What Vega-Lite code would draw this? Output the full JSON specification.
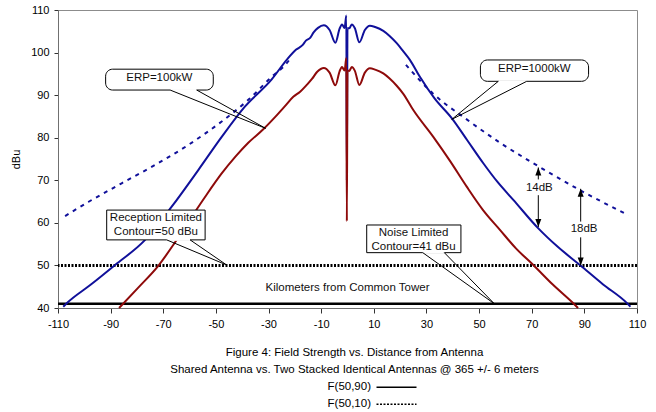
{
  "$schema": "https://vega.github.io/schema/vega-lite/v6.json",
  "width": 579,
  "height": 298,
  "autosize": {"type": "none"},
  "padding": {"left": 58, "top": 10, "right": 19, "bottom": 104},
  "background": "white",
  "config": {
    "font": "Liberation Sans",
    "view": {"stroke": "#8c8c8c", "strokeWidth": 1},
    "axis": {
      "labelFont": "Liberation Sans",
      "labelFontSize": 11,
      "labelColor": "black",
      "domainColor": "#707070",
      "tickColor": "#333333",
      "grid": false,
      "titleFont": "Liberation Sans",
      "titleFontWeight": "normal",
      "titleFontSize": 11,
      "titleColor": "black",
      "labelFlush": false,
      "labelOverlap": false
    },
    "title": {"font": "Liberation Sans", "fontSize": 11.5, "fontWeight": "normal", "color": "black"}
  },
  "title": {
    "text": "Figure 4: Field Strength vs. Distance from Antenna",
    "subtitle": "Shared Antenna vs. Two Stacked Identical Antennas @ 365 +/- 6 meters",
    "orient": "top",
    "anchor": "middle",
    "offset": -371,
    "dx": 7,
    "fontSize": 11.5,
    "subtitleFont": "Liberation Sans",
    "subtitleFontSize": 11.5,
    "subtitleColor": "black",
    "subtitlePadding": 5.5
  },
  "datasets": {
    "levels": [
      {"curve": "F(50,90)", "level": 41},
      {"curve": "F(50,10)", "level": 50}
    ],
    "curves": [
      {"series": "1000kW", "km": -108, "dbu": 40.3},
      {"series": "1000kW", "km": -106.7, "dbu": 41.1},
      {"series": "1000kW", "km": -97.5, "dbu": 45.5},
      {"series": "1000kW", "km": -88.3, "dbu": 50.1},
      {"series": "1000kW", "km": -76.9, "dbu": 56.0},
      {"series": "1000kW", "km": -66.8, "dbu": 63.8},
      {"series": "1000kW", "km": -56.7, "dbu": 72.4},
      {"series": "1000kW", "km": -47.8, "dbu": 80.2},
      {"series": "1000kW", "km": -39.0, "dbu": 87.3},
      {"series": "1000kW", "km": -28.8, "dbu": 93.7},
      {"series": "1000kW", "km": -23.1, "dbu": 98.3},
      {"series": "1000kW", "km": -19.5, "dbu": 100.7},
      {"series": "1000kW", "km": -17.0, "dbu": 101.8},
      {"series": "1000kW", "km": -15.8, "dbu": 102.8},
      {"series": "1000kW", "km": -14.3, "dbu": 103.4},
      {"series": "1000kW", "km": -12.8, "dbu": 104.8},
      {"series": "1000kW", "km": -11.2, "dbu": 105.8},
      {"series": "1000kW", "km": -9.0, "dbu": 106.4},
      {"series": "1000kW", "km": -6.8, "dbu": 105.3},
      {"series": "1000kW", "km": -4.6, "dbu": 102.3},
      {"series": "1000kW", "km": -3.0, "dbu": 105.6},
      {"series": "1000kW", "km": -2.1, "dbu": 106.6},
      {"series": "1000kW", "km": -1.1, "dbu": 105.8},
      {"series": "1000kW", "km": -0.45, "dbu": 108.7},
      {"series": "1000kW", "km": -0.25, "dbu": 70},
      {"series": "1000kW", "km": 0.0, "dbu": 105.8},
      {"series": "1000kW", "km": 0.7, "dbu": 105.7},
      {"series": "1000kW", "km": 1.6, "dbu": 106.6},
      {"series": "1000kW", "km": 2.8, "dbu": 105.7},
      {"series": "1000kW", "km": 4.5, "dbu": 102.4},
      {"series": "1000kW", "km": 6.6, "dbu": 105.3},
      {"series": "1000kW", "km": 8.5, "dbu": 106.3},
      {"series": "1000kW", "km": 10.5, "dbu": 106.0},
      {"series": "1000kW", "km": 13.6, "dbu": 105.1},
      {"series": "1000kW", "km": 16, "dbu": 103.9},
      {"series": "1000kW", "km": 18.7, "dbu": 102.2},
      {"series": "1000kW", "km": 21.2, "dbu": 100.3},
      {"series": "1000kW", "km": 23.7, "dbu": 98.3},
      {"series": "1000kW", "km": 27.5, "dbu": 94.3},
      {"series": "1000kW", "km": 33, "dbu": 89.3},
      {"series": "1000kW", "km": 39.6, "dbu": 84.6},
      {"series": "1000kW", "km": 45.5, "dbu": 79.4},
      {"series": "1000kW", "km": 51.6, "dbu": 74.0},
      {"series": "1000kW", "km": 57, "dbu": 69.6},
      {"series": "1000kW", "km": 63.0, "dbu": 65.4},
      {"series": "1000kW", "km": 72.5, "dbu": 58.7},
      {"series": "1000kW", "km": 80, "dbu": 54.3},
      {"series": "1000kW", "km": 88.3, "dbu": 50.1},
      {"series": "1000kW", "km": 97, "dbu": 45.6},
      {"series": "1000kW", "km": 106.1, "dbu": 41.2},
      {"series": "1000kW", "km": 107.5, "dbu": 40.3},

      {"series": "100kW", "km": -86.8, "dbu": 40.0},
      {"series": "100kW", "km": -79.5, "dbu": 44.8},
      {"series": "100kW", "km": -71.9, "dbu": 49.9},
      {"series": "100kW", "km": -66, "dbu": 55.0},
      {"series": "100kW", "km": -60.5, "dbu": 60.2},
      {"series": "100kW", "km": -54, "dbu": 66.2},
      {"series": "100kW", "km": -47.8, "dbu": 71.6},
      {"series": "100kW", "km": -42.5, "dbu": 75.6},
      {"series": "100kW", "km": -37.7, "dbu": 78.8},
      {"series": "100kW", "km": -32, "dbu": 82.0},
      {"series": "100kW", "km": -27, "dbu": 85.2},
      {"series": "100kW", "km": -23.5, "dbu": 87.6},
      {"series": "100kW", "km": -20.6, "dbu": 89.6},
      {"series": "100kW", "km": -18, "dbu": 90.8},
      {"series": "100kW", "km": -15.5, "dbu": 92.4},
      {"series": "100kW", "km": -13.5, "dbu": 93.8},
      {"series": "100kW", "km": -11.5, "dbu": 95.5},
      {"series": "100kW", "km": -9.0, "dbu": 96.4},
      {"series": "100kW", "km": -6.8, "dbu": 95.3},
      {"series": "100kW", "km": -4.6, "dbu": 92.3},
      {"series": "100kW", "km": -3.0, "dbu": 95.6},
      {"series": "100kW", "km": -2.1, "dbu": 96.6},
      {"series": "100kW", "km": -1.1, "dbu": 95.8},
      {"series": "100kW", "km": -0.45, "dbu": 98.7},
      {"series": "100kW", "km": -0.25, "dbu": 60.4},
      {"series": "100kW", "km": 0.0, "dbu": 95.8},
      {"series": "100kW", "km": 0.7, "dbu": 95.7},
      {"series": "100kW", "km": 1.6, "dbu": 96.6},
      {"series": "100kW", "km": 2.8, "dbu": 95.7},
      {"series": "100kW", "km": 4.5, "dbu": 92.4},
      {"series": "100kW", "km": 6.6, "dbu": 95.3},
      {"series": "100kW", "km": 8.5, "dbu": 96.3},
      {"series": "100kW", "km": 10.5, "dbu": 96.0},
      {"series": "100kW", "km": 13.6, "dbu": 95.1},
      {"series": "100kW", "km": 16, "dbu": 93.9},
      {"series": "100kW", "km": 18.7, "dbu": 92.2},
      {"series": "100kW", "km": 21.2, "dbu": 90.3},
      {"series": "100kW", "km": 25, "dbu": 86.5},
      {"series": "100kW", "km": 32.6, "dbu": 80.2},
      {"series": "100kW", "km": 39, "dbu": 74.5},
      {"series": "100kW", "km": 45.3, "dbu": 68.5},
      {"series": "100kW", "km": 51.5, "dbu": 63.0},
      {"series": "100kW", "km": 58.0, "dbu": 58.3},
      {"series": "100kW", "km": 64, "dbu": 54.0},
      {"series": "100kW", "km": 70.6, "dbu": 50.1},
      {"series": "100kW", "km": 78, "dbu": 45.5},
      {"series": "100kW", "km": 85.8, "dbu": 41.1},
      {"series": "100kW", "km": 87.6, "dbu": 40.0}
    ],
    "f10": [
      {"side": "west", "km": -107.3, "dbu": 61.6},
      {"side": "west", "km": -98.5, "dbu": 64.9},
      {"side": "west", "km": -85.8, "dbu": 69.3},
      {"side": "west", "km": -73.1, "dbu": 73.6},
      {"side": "west", "km": -60.5, "dbu": 78.3},
      {"side": "west", "km": -47.8, "dbu": 83.8},
      {"side": "west", "km": -37.7, "dbu": 88.9},
      {"side": "west", "km": -28.8, "dbu": 94.3},
      {"side": "west", "km": -23.1, "dbu": 97.5},
      {"side": "west", "km": -21.5, "dbu": 98.8},
      {"side": "east", "km": 22.2, "dbu": 97.1},
      {"side": "east", "km": 32.6, "dbu": 90.3},
      {"side": "east", "km": 45.3, "dbu": 84.3},
      {"side": "east", "km": 58.0, "dbu": 78.8},
      {"side": "east", "km": 70.6, "dbu": 74.0},
      {"side": "east", "km": 88.3, "dbu": 67.7},
      {"side": "east", "km": 106.7, "dbu": 61.8}
    ],
    "callouts": [
      {"shape": "rounded", "x1": -91.9, "x2": -51.0, "y1": 96.1, "y2": 91.2},
      {"shape": "rounded", "x1": 50.5, "x2": 91.6, "y1": 98.26, "y2": 93.25},
      {"shape": "square", "x1": -91.5, "x2": -54.1, "y1": 63.0, "y2": 56.0},
      {"shape": "square", "x1": 7.3, "x2": 43.1, "y1": 59.5, "y2": 53.0}
    ],
    "pointerBases": [
      {"x1": -67.4, "x2": -57.3, "y": 91.2},
      {"x1": 57.3, "x2": 68.1, "y": 93.25},
      {"x1": -68.7, "x2": -59.8, "y": 56.0},
      {"x1": 28.6, "x2": 36.8, "y": 53.0}
    ],
    "pointers": [
      {"x": -67.4, "y": 91.2, "tx": -31.1, "ty": 82.2},
      {"x": -57.3, "y": 91.2, "tx": -31.1, "ty": 82.2},
      {"x": 57.3, "y": 93.25, "tx": 39.6, "ty": 84.3},
      {"x": 68.1, "y": 93.25, "tx": 39.6, "ty": 84.3},
      {"x": -68.7, "y": 56.0, "tx": -45.9, "ty": 50.1},
      {"x": -59.8, "y": 56.0, "tx": -45.9, "ty": 50.1},
      {"x": 28.6, "y": 53.0, "tx": 55.8, "ty": 41.0},
      {"x": 36.8, "y": 53.0, "tx": 55.8, "ty": 41.0}
    ],
    "notes": [
      {"text": "ERP=100kW", "x": -71.5, "y": 94.1},
      {"text": "ERP=1000kW", "x": 71.0, "y": 96.1},
      {"text": "Reception Limited", "x": -72.8, "y": 61.1},
      {"text": "Contour=50 dBu", "x": -72.8, "y": 57.9},
      {"text": "Noise Limited", "x": 25.1, "y": 57.7},
      {"text": "Contour=41 dBu", "x": 25.1, "y": 54.4},
      {"text": "Kilometers from Common  Tower", "x": 0, "y": 44.7}
    ],
    "shafts": [
      {"x": 72.5, "y": 73, "y2": 70.2},
      {"x": 72.5, "y": 66.5, "y2": 59},
      {"x": 88.6, "y": 68, "y2": 60.3},
      {"x": 88.6, "y": 56.6, "y2": 50}
    ],
    "heads": [
      {"x": 72.5, "y": 73, "dir": "up"},
      {"x": 72.5, "y": 59, "dir": "down"},
      {"x": 88.6, "y": 68, "dir": "up"},
      {"x": 88.6, "y": 50, "dir": "down"}
    ],
    "gaps": [
      {"text": "14dB", "x": 72.9, "y": 68.3},
      {"text": "18dB", "x": 89.9, "y": 58.5}
    ]
  },
  "layer": [
    {
      "data": {"name": "levels"},
      "transform": [{"filter": "datum.curve === 'F(50,90)'"}],
      "mark": {"type": "rule", "color": "black", "strokeWidth": 2.5},
      "encoding": {
        "y": {
          "field": "level", "type": "quantitative",
          "scale": {"domain": [40, 110], "nice": false, "zero": false},
          "axis": {"values": [40, 50, 60, 70, 80, 90, 100, 110], "title": "dBu", "tickSize": 4, "labelPadding": 5, "titlePadding": 9}
        },
        "strokeDash": {
          "field": "curve", "type": "nominal",
          "scale": {"domain": ["F(50,90)", "F(50,10)"], "range": [[1, 0], [2, 1.5]]},
          "legend": {
            "orient": "none", "legendX": 332.5, "legendY": 371.2, "title": null,
            "symbolType": "M-4,0H4", "symbolSize": 100, "symbolStrokeWidth": 1.6,
            "symbolStrokeColor": "black", "labelFontSize": 11.5, "labelColor": "black",
            "labelFont": "Liberation Sans", "labelAlign": "right", "labelOffset": -31.5,
            "rowPadding": 5, "padding": 0
          }
        }
      }
    },
    {
      "data": {"name": "levels"},
      "transform": [{"filter": "datum.curve === 'F(50,10)'"}],
      "mark": {"type": "rule", "color": "black", "strokeWidth": 3, "strokeDash": [3, 2]},
      "encoding": {
        "y": {"field": "level", "type": "quantitative"},
        "strokeDash": {"field": "curve", "type": "nominal"}
      }
    },
    {
      "data": {"name": "f10"},
      "mark": {"type": "line", "color": "#10109a", "strokeWidth": 2, "strokeDash": [4, 5], "interpolate": "monotone"},
      "encoding": {
        "x": {
          "field": "km", "type": "quantitative",
          "scale": {"domain": [-110, 110], "nice": false, "zero": false},
          "axis": {
            "values": [-110, -90, -70, -50, -30, -10, 10, 30, 50, 70, 90, 110],
            "labelExpr": "datum.value < 0 ? '-' + abs(datum.value) : '' + datum.value",
            "title": null, "tickSize": 5, "labelPadding": 5
          }
        },
        "y": {"field": "dbu", "type": "quantitative"},
        "detail": {"field": "side"}
      }
    },
    {
      "data": {"name": "curves"},
      "transform": [{"filter": "datum.series === '1000kW'"}],
      "mark": {"type": "line", "color": "#10109a", "strokeWidth": 2, "interpolate": "monotone"},
      "encoding": {
        "x": {"field": "km", "type": "quantitative"},
        "y": {"field": "dbu", "type": "quantitative"}
      }
    },
    {
      "data": {"name": "curves"},
      "transform": [{"filter": "datum.series === '100kW'"}],
      "mark": {"type": "line", "color": "#8e0a0a", "strokeWidth": 2, "interpolate": "monotone"},
      "encoding": {
        "x": {"field": "km", "type": "quantitative"},
        "y": {"field": "dbu", "type": "quantitative"}
      }
    },
    {
      "data": {"name": "callouts"},
      "transform": [{"filter": "datum.shape === 'rounded'"}],
      "mark": {"type": "rect", "fill": "white", "stroke": "black", "strokeWidth": 1, "cornerRadius": 7},
      "encoding": {
        "x": {"field": "x1", "type": "quantitative"},
        "x2": {"field": "x2"},
        "y": {"field": "y1", "type": "quantitative"},
        "y2": {"field": "y2"}
      }
    },
    {
      "data": {"name": "callouts"},
      "transform": [{"filter": "datum.shape === 'square'"}],
      "mark": {"type": "rect", "fill": "white", "stroke": "black", "strokeWidth": 1},
      "encoding": {
        "x": {"field": "x1", "type": "quantitative"},
        "x2": {"field": "x2"},
        "y": {"field": "y1", "type": "quantitative"},
        "y2": {"field": "y2"}
      }
    },
    {
      "data": {"name": "pointerBases"},
      "mark": {"type": "rule", "color": "white", "strokeWidth": 2},
      "encoding": {
        "x": {"field": "x1", "type": "quantitative"},
        "x2": {"field": "x2"},
        "y": {"field": "y", "type": "quantitative"}
      }
    },
    {
      "data": {"name": "pointers"},
      "mark": {"type": "rule", "color": "black", "strokeWidth": 1},
      "encoding": {
        "x": {"field": "x", "type": "quantitative"},
        "x2": {"field": "tx"},
        "y": {"field": "y", "type": "quantitative"},
        "y2": {"field": "ty"}
      }
    },
    {
      "data": {"name": "notes"},
      "mark": {"type": "text", "font": "Liberation Sans", "fontSize": 11.5, "color": "#111111", "align": "center", "baseline": "middle"},
      "encoding": {
        "x": {"field": "x", "type": "quantitative"},
        "y": {"field": "y", "type": "quantitative"},
        "text": {"field": "text"}
      }
    },
    {
      "data": {"name": "shafts"},
      "mark": {"type": "rule", "color": "black", "strokeWidth": 1},
      "encoding": {
        "x": {"field": "x", "type": "quantitative"},
        "y": {"field": "y", "type": "quantitative"},
        "y2": {"field": "y2"}
      }
    },
    {
      "data": {"name": "heads"},
      "mark": {"type": "point", "filled": true, "color": "black", "opacity": 1, "size": 64, "strokeWidth": 0},
      "encoding": {
        "x": {"field": "x", "type": "quantitative"},
        "y": {"field": "y", "type": "quantitative"},
        "shape": {
          "field": "dir", "type": "nominal",
          "scale": {"domain": ["up", "down"], "range": ["M0,0L-0.75,2L0.75,2Z", "M0,0L-0.75,-2L0.75,-2Z"]},
          "legend": null
        }
      }
    },
    {
      "data": {"name": "gaps"},
      "mark": {"type": "text", "font": "Liberation Sans", "fontSize": 11.5, "color": "#111111", "align": "center", "baseline": "middle"},
      "encoding": {
        "x": {"field": "x", "type": "quantitative"},
        "y": {"field": "y", "type": "quantitative"},
        "text": {"field": "text"}
      }
    }
  ]
}
